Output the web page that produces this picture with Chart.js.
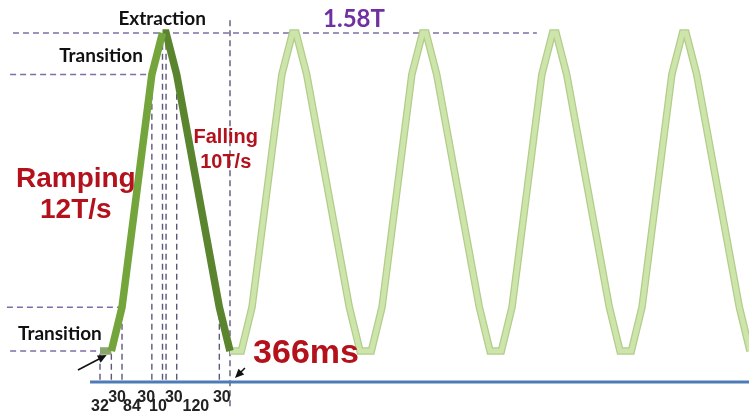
<!DOCTYPE html>
<html>
<head>
<meta charset="utf-8">
<script src="https://cdn.jsdelivr.net/npm/chart.js@4"></script>
<style>
  html, body { margin: 0; padding: 0; background: #fff; }
  canvas { display: block; }
</style>
</head>
<body>
<canvas id="cycleChart" width="749" height="413"></canvas>
<script>
// one magnet cycle (ms / Tesla)
const cycleTimes = [0, 32, 62, 146, 176, 186, 216, 336, 366];
const cycleField = [0.2, 0.2, 0.39, 1.40, 1.58, 1.58, 1.40, 0.39, 0.2];
const segmentLabels = ['32', '30', '84', '30', '10', '30', '120', '30'];

// the following cycles, drawn pale
const laterTimes = [
    366, 398, 428, 512, 542, 552, 582, 702,
    732, 764, 794, 878, 908, 918, 948, 1068,
    1098, 1130, 1160, 1244, 1274, 1284, 1314, 1434,
    1464, 1496, 1526, 1610, 1640, 1650, 1680, 1800,
    1830, 1862, 1892
];
const laterField = [
    0.2, 0.2, 0.39, 1.40, 1.58, 1.58, 1.40, 0.39,
    0.2, 0.2, 0.39, 1.40, 1.58, 1.58, 1.40, 0.39,
    0.2, 0.2, 0.39, 1.40, 1.58, 1.58, 1.40, 0.39,
    0.2, 0.2, 0.39, 1.40, 1.58, 1.58, 1.40, 0.39,
    0.2, 0.2, 0.39
];

// bottom, transition low, transition high, extraction (T)
const fieldLevels = [0.2, 0.39, 1.40, 1.58];

function pts(xs, ys) {
    return xs.map(function(x, i) { return { x: x, y: ys[i] }; });
}

const start = pts(cycleTimes.slice(0, 2), cycleField.slice(0, 2));
const rising = pts(cycleTimes.slice(1, 5), cycleField.slice(1, 5));
const falling = pts(cycleTimes.slice(4), cycleField.slice(4));
const later = pts(laterTimes, laterField);

const datasets = [];

datasets.push({ data: rising, borderColor: '#74a53c', borderWidth: 7.5, order: 0 });
datasets.push({ data: falling, borderColor: '#5b842f', borderWidth: 7.5, order: 0 });
datasets.push({ data: start, borderColor: '#8ba56c', borderWidth: 7.5, order: 0 });
datasets.push({ data: later, borderColor: '#cde4aa', borderWidth: 5, order: 1 });
datasets.push({ data: later, borderColor: '#b2cd8a', borderWidth: 7.5, order: 2 });

// horizontal guide lines (level, left end, right end in ms)
const hGuides = [
    [fieldLevels[0], -253, 0],
    [fieldLevels[1], -262, 62],
    [fieldLevels[2], -253, 146],
    [fieldLevels[3], -245, 1230]
];
hGuides.forEach(function(g) {
    datasets.push({
        data: [{ x: g[1], y: g[0] }, { x: g[2], y: g[0] }],
        borderColor: '#7f6ea6', borderWidth: 1.6, borderDash: [6, 4], order: 5
    });
});

// vertical guide lines at each segment boundary
cycleTimes.forEach(function(t, i) {
    const last = i === cycleTimes.length - 1;
    const top = last ? 1.636 : cycleField[i];
    const bottom = last ? -0.04 : 0.075;
    datasets.push({
        data: [{ x: t, y: bottom }, { x: t, y: top }],
        borderColor: '#5e5878', borderWidth: 1.4, borderDash: [6, 4], order: 5
    });
});

// time axis line
datasets.push({
    data: [{ x: -28, y: 0.0655 }, { x: 1900, y: 0.0655 }],
    borderColor: '#4d7bb5', borderWidth: 3, order: 3
});

const notes = {
    id: 'notes',
    afterDatasetsDraw(chart) {
        const c = chart.ctx, xs = chart.scales.x, ys = chart.scales.y;
        const X = function(v) { return xs.getPixelForValue(v); };
        const Y = function(v) { return ys.getPixelForValue(v); };
        c.save();
        c.textAlign = 'center';
        c.textBaseline = 'alphabetic';

        function txt(s, t, v, font, color) {
            c.font = font;
            c.fillStyle = color;
            c.fillText(s, X(t), Y(v));
        }
        const lato = '"Lato", "Open Sans", sans-serif';
        const arial = 'Arial, "Liberation Sans", sans-serif';
        const red = '#b3121c';

        txt('Extraction', 175, 1.615, 'bold 19px ' + lato, '#111');
        txt('Transition', 3, 1.454, 'bold 19px ' + lato, '#111');
        txt('Transition', -113, 0.248, 'bold 19px ' + lato, '#111');
        txt('1.58T', 715, 1.606, 'bold 24px ' + lato, '#7030a0');
        txt('Falling', 354, 1.103, 'bold 20px ' + arial, red);
        txt('10T/s', 354, 0.994, 'bold 20px ' + arial, red);
        txt('Ramping', -68, 0.912, 'bold 28px ' + arial, red);
        txt('12T/s', -68, 0.777, 'bold 28px ' + arial, red);
        txt('366ms', 580, 0.148, 'bold 34px ' + arial, red);

        // segment durations, alternating low / raised
        const labelX = [0, 48, 90, 130, 163, 208, 270, 343];
        segmentLabels.forEach(function(s, i) {
            const v = i % 2 === 0 ? -0.0604 : -0.0213;
            txt(s, labelX[i], v, 'bold 16px "Liberation Sans Narrow", ' + arial, '#222');
        });

        // arrows
        function arrow(t0, v0, t1, v1) {
            const x0 = X(t0), y0 = Y(v0), x1 = X(t1), y1 = Y(v1);
            const a = Math.atan2(y1 - y0, x1 - x0);
            c.strokeStyle = '#111';
            c.fillStyle = '#111';
            c.lineWidth = 1.6;
            c.beginPath();
            c.moveTo(x0, y0);
            c.lineTo(x1 - 6 * Math.cos(a), y1 - 6 * Math.sin(a));
            c.stroke();
            c.beginPath();
            c.moveTo(x1, y1);
            c.lineTo(x1 - 9 * Math.cos(a) + 4 * Math.sin(a), y1 - 9 * Math.sin(a) - 4 * Math.cos(a));
            c.lineTo(x1 - 9 * Math.cos(a) - 4 * Math.sin(a), y1 - 9 * Math.sin(a) + 4 * Math.cos(a));
            c.closePath();
            c.fill();
        }
        arrow(-62, 0.1175, 19, 0.183);
        arrow(408, 0.126, 380, 0.083);
        c.restore();
    }
};

new Chart(document.getElementById('cycleChart').getContext('2d'), {
    type: 'line',
    data: { datasets: datasets },
    options: {
        responsive: false,
        animation: false,
        devicePixelRatio: 1,
        layout: { padding: 0 },
        elements: {
            point: { radius: 0 },
            line: { tension: 0, borderJoinStyle: 'miter', borderCapStyle: 'butt', fill: false }
        },
        plugins: { legend: { display: false }, tooltip: { enabled: false } },
        scales: {
            x: { type: 'linear', display: false, min: -281.5, max: 1827.2 },
            y: { type: 'linear', display: false, min: -0.0691, max: 1.7232 }
        }
    },
    plugins: [notes]
});
</script>
</body>
</html>
